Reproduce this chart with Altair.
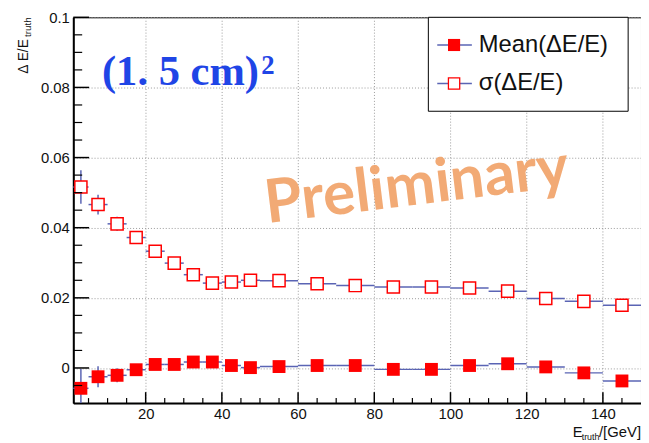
import altair as alt
import pandas as pd

# ---- data ----
x_center = [3, 7.5, 12.5, 17.5, 22.5, 27.5, 32.5, 37.5, 42.5, 47.5,
            55, 65, 75, 85, 95, 105, 115, 125, 135, 145]
bin_lo = [1, 5, 10, 15, 20, 25, 30, 35, 40, 45,
          50, 60, 70, 80, 90, 100, 110, 120, 130, 140]
bin_hi = [5, 10, 15, 20, 25, 30, 35, 40, 45, 50,
          60, 70, 80, 90, 100, 110, 120, 130, 140, 150]
mean_val = [-0.0058, -0.0025, -0.0021, -0.0005, 0.0010, 0.0010, 0.0017, 0.0017, 0.0007, 0.0001,
            0.0004, 0.0007, 0.0007, -0.0004, -0.0004, 0.0007, 0.0012, 0.0003, -0.0014, -0.0037]
mean_err = [0.0055, 0.0030, 0.0020, 0.0012, 0.0010, 0.0010, 0.0008, 0.0008, 0.0008, 0.0008,
            0.0006, 0.0006, 0.0006, 0.0006, 0.0006, 0.0006, 0.0006, 0.0006, 0.0006, 0.0006]
sigma_val = [0.0516, 0.0466, 0.0411, 0.0372, 0.0333, 0.0299, 0.0266, 0.0242, 0.0245, 0.0250,
             0.0249, 0.0240, 0.0235, 0.0231, 0.0231, 0.0228, 0.0219, 0.0198, 0.0190, 0.0179]
sigma_err = [0.0048, 0.0028, 0.0020, 0.0015, 0.0012, 0.0010, 0.0009, 0.0008, 0.0008, 0.0008,
             0.0006, 0.0006, 0.0006, 0.0006, 0.0006, 0.0006, 0.0006, 0.0006, 0.0006, 0.0006]

x_major = [20, 40, 60, 80, 100, 120, 140]
x_minor = [5, 10, 15, 25, 30, 35, 45, 50, 55, 65, 70, 75, 85, 90, 95,
           105, 110, 115, 125, 130, 135, 145]
y_major = [0, 0.02, 0.04, 0.06, 0.08, 0.1]
y_minor = [-0.005, 0.005, 0.01, 0.015, 0.025, 0.03, 0.035, 0.045, 0.05, 0.055,
           0.065, 0.07, 0.075, 0.085, 0.09, 0.095]

legend_labels = ["Mean(ΔE/E)", "σ(ΔE/E)"]

df = pd.DataFrame({
    "x": x_center, "lo": bin_lo, "hi": bin_hi,
    "mean": mean_val, "mean_err": mean_err,
    "sigma": sigma_val, "sigma_err": sigma_err,
})
df["mean_lo"] = df["mean"] - df["mean_err"]
df["mean_hi"] = df["mean"] + df["mean_err"]
df["sigma_lo"] = df["sigma"] - df["sigma_err"]
df["sigma_hi"] = df["sigma"] + df["sigma_err"]

W, H = 574, 390
FONT = "Liberation Sans"
RED = "#ff0000"
BLUE = "#5a64b4"

xs = alt.Scale(domain=[1, 150], nice=False, zero=False)
ys = alt.Scale(domain=[-0.01, 0.1], nice=False, zero=False)

x_axis = alt.Axis(values=x_major, title=None, grid=True, ticks=False,
                  labelFont=FONT, labelFontSize=15, labelColor="#111",
                  labelPadding=4, domainColor="black", domainWidth=2,
                  gridColor="#9a9a9a", gridDash=[1, 2], gridWidth=1)
y_axis = alt.Axis(values=y_major, title=None, grid=True, ticks=False, format=".2~f",
                  labelFont=FONT, labelFontSize=15, labelColor="#111",
                  labelPadding=4, domainColor="black", domainWidth=2,
                  gridColor="#9a9a9a", gridDash=[1, 2], gridWidth=1)


def X(f):
    return alt.X(f, type="quantitative", scale=xs, axis=x_axis, title=None)


def Y(f):
    return alt.Y(f, type="quantitative", scale=ys, axis=y_axis, title=None)


base = alt.Chart(df)

# horizontal (bin width) bars
h_mean = base.mark_rule(color=BLUE, strokeWidth=1.5).encode(
    x=X("lo"), x2="hi", y=Y("mean"))
h_sig = base.mark_rule(color=BLUE, strokeWidth=1.5).encode(
    x=X("lo"), x2="hi", y=Y("sigma"))
# vertical error bars
v_mean = base.mark_rule(color=BLUE, strokeWidth=1.5, clip=True).encode(
    x=X("x"), y=Y("mean_lo"), y2="mean_hi")
v_sig = base.mark_rule(color=BLUE, strokeWidth=1.5, clip=True).encode(
    x=X("x"), y=Y("sigma_lo"), y2="sigma_hi")

p_mean = base.mark_point(shape="square", filled=True, color=RED, size=169, opacity=1).encode(
    x=X("x"), y=Y("mean"))
p_sig = base.mark_point(shape="square", filled=True, fill="white", stroke=RED,
                        strokeWidth=1.5, size=150, opacity=1).encode(
    x=X("x"), y=Y("sigma"))

# inward ticks
xt_major = alt.Chart(pd.DataFrame({"t": x_major})).mark_rule(color="black", strokeWidth=1.5).encode(
    x=X("t"), y=alt.value(H), y2=alt.value(H - 11))
xt_minor = alt.Chart(pd.DataFrame({"t": x_minor})).mark_rule(color="black", strokeWidth=1.2).encode(
    x=X("t"), y=alt.value(H), y2=alt.value(H - 5))
yt_major = alt.Chart(pd.DataFrame({"t": y_major})).mark_rule(color="black", strokeWidth=1.5).encode(
    y=Y("t"), x=alt.value(0), x2=alt.value(16))
yt_minor = alt.Chart(pd.DataFrame({"t": y_minor})).mark_rule(color="black", strokeWidth=1.2).encode(
    y=Y("t"), x=alt.value(0), x2=alt.value(9))

one = pd.DataFrame({"a": [0]})


def txt(s, x, y, **kw):
    return alt.Chart(pd.DataFrame({"s": [s]})).mark_text(**kw).encode(
        text="s:N", x=alt.value(x), y=alt.value(y))


# axis titles
ytitle1 = txt("Δ E/E", -46, 57, angle=270, align="left", baseline="alphabetic",
              font=FONT, fontSize=14, color="#111")
ytitle2 = txt("truth", -43, 20, angle=270, align="left", baseline="alphabetic",
              font=FONT, fontSize=10, color="#111")
xtitle1 = txt("/[GeV]", 574, 424, align="right", baseline="alphabetic",
              font=FONT, fontSize=15, color="#111")
xtitle2 = txt("truth", 532, 427, align="right", baseline="alphabetic",
              font=FONT, fontSize=9, color="#111")
xtitle3 = txt("E", 515, 424, align="right", baseline="alphabetic",
              font=FONT, fontSize=15, color="#111")

# annotations
cell = txt("(1. 5 cm)", 29, 68, align="left", baseline="alphabetic",
           font="Liberation Serif", fontWeight="bold", fontSize=43, color="#1f45e6")
cell2 = txt("2", 190, 57, align="left", baseline="alphabetic",
            font="Liberation Serif", fontWeight="bold", fontSize=27, color="#1f45e6")
prelim = txt("Preliminary", 196, 208, align="left", baseline="alphabetic", angle=353,
             font="Lato", fontWeight="bold", fontSize=61, color="#f2a66e", opacity=0.95)

# legend
leg_box = alt.Chart(one).mark_rect(fill="white", stroke="black", strokeWidth=1).encode(
    x=alt.value(359), x2=alt.value(561), y=alt.value(0), y2=alt.value(95))
leg_df = pd.DataFrame({"label": legend_labels, "ypix": [28, 67]})
leg_lines = alt.Chart(leg_df).mark_rule(color=BLUE, strokeWidth=1.5).encode(
    x=alt.value(368), x2=alt.value(403), y=alt.Y("ypix:Q", scale=None))
leg_m = alt.Chart(leg_df.iloc[[0]]).mark_point(shape="square", filled=True, color=RED,
                                                size=150, opacity=1).encode(
    x=alt.value(385), y=alt.Y("ypix:Q", scale=None))
leg_s = alt.Chart(leg_df.iloc[[1]]).mark_point(shape="square", filled=True, fill="white",
                                                stroke=RED, strokeWidth=1.3, size=130,
                                                opacity=1).encode(
    x=alt.value(385), y=alt.Y("ypix:Q", scale=None))
leg_text = alt.Chart(leg_df).mark_text(align="left", baseline="middle", font=FONT,
                                       fontSize=24, color="#111").encode(
    x=alt.value(410), y=alt.Y("ypix:Q", scale=None), text="label:N")

chart = alt.layer(
    h_sig, h_mean, v_sig, v_mean, p_sig, p_mean,
    xt_major, xt_minor, yt_major, yt_minor,
    prelim, cell, cell2,
    leg_box, leg_lines, leg_m, leg_s, leg_text,
    ytitle1, ytitle2, xtitle1, xtitle2, xtitle3,
).properties(
    width=W, height=H,
    autosize=alt.AutoSizeParams(type="none"),
    padding={"left": 66, "top": 7, "right": 0, "bottom": 38},
    background="white",
).configure_view(stroke="black", strokeWidth=1)

chart.save("out.html", embed_options={"renderer": "svg", "actions": False})
